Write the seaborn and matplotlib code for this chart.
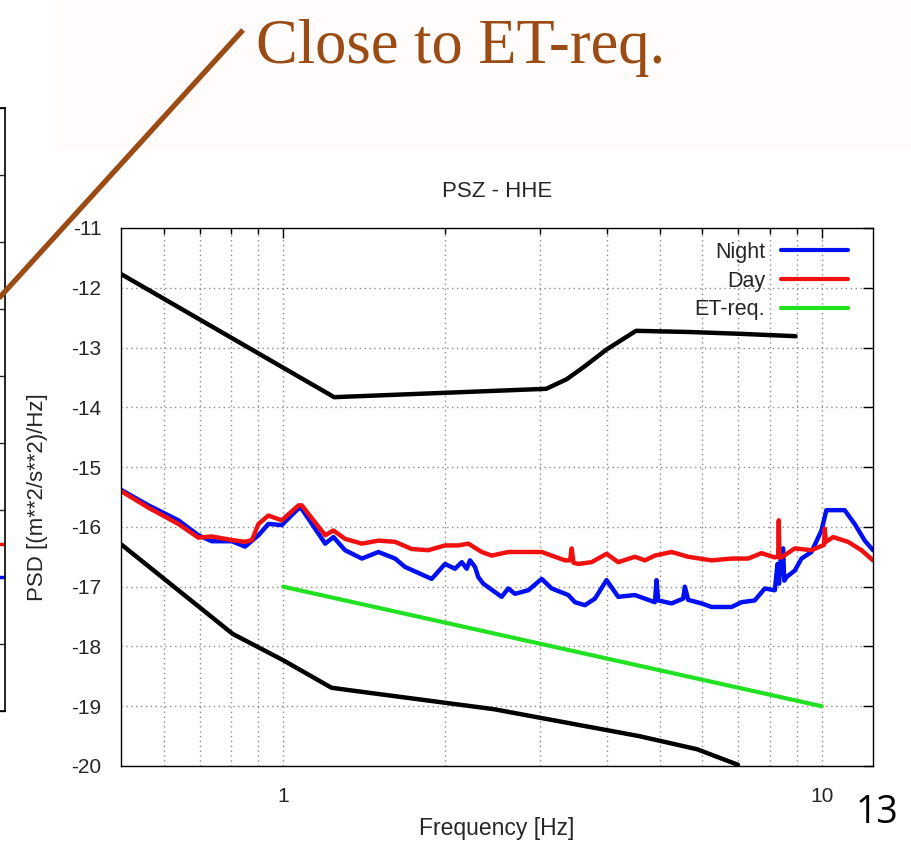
import numpy as np
import pandas as pd
import matplotlib
matplotlib.use("Agg")
import matplotlib.pyplot as plt
import seaborn as sns
from matplotlib.ticker import FixedLocator, FixedFormatter, NullFormatter
from matplotlib.lines import Line2D
from matplotlib.patches import Rectangle

# ---------------- data ----------------
night_freq = [0.5, 0.5625, 0.639, 0.696, 0.737, 0.803, 0.850, 0.900, 0.939, 0.994,
              1.068, 1.083, 1.197, 1.240, 1.303, 1.400, 1.503, 1.614, 1.684, 1.887,
              1.998, 2.085, 2.146, 2.192, 2.223, 2.271, 2.303, 2.353, 2.545, 2.618,
              2.694, 2.852, 3.020, 3.152, 3.384, 3.482, 3.634, 3.792, 3.986, 4.189,
              4.499, 4.695, 4.900, 4.935, 4.969, 5.263, 5.530, 5.570, 5.649, 5.981,
              6.243, 6.800, 7.097, 7.510, 7.839, 8.182, 8.277, 8.330, 8.400, 8.477,
              8.520, 8.601, 8.912, 9.170, 9.570, 9.987, 10.20, 11.03, 11.51, 12.02, 12.45]
night_psd = [-15.38, -15.64, -15.89, -16.14, -16.24, -16.24, -16.33, -16.14, -15.95, -15.97,
             -15.69, -15.70, -16.28, -16.17, -16.39, -16.53, -16.42, -16.53, -16.67, -16.87,
             -16.62, -16.70, -16.59, -16.70, -16.56, -16.67, -16.84, -16.95, -17.17, -17.03,
             -17.12, -17.06, -16.87, -17.03, -17.14, -17.26, -17.31, -17.20, -16.89, -17.17,
             -17.14, -17.20, -17.26, -16.89, -17.23, -17.28, -17.20, -17.00, -17.22, -17.28,
             -17.34, -17.34, -17.26, -17.23, -17.03, -17.06, -16.62, -16.95, -16.45, -16.36,
             -16.90, -16.84, -16.73, -16.53, -16.42, -16.06, -15.72, -15.72, -15.95, -16.23, -16.39]

day_freq = [0.5, 0.5625, 0.639, 0.696, 0.737, 0.803, 0.850, 0.875, 0.900, 0.939,
            0.994, 1.068, 1.083, 1.197, 1.240, 1.303, 1.400, 1.503, 1.614, 1.733,
            1.860, 1.998, 2.115, 2.207, 2.337, 2.439, 2.618, 3.020, 3.337, 3.410,
            3.433, 3.460, 3.531, 3.739, 3.986, 4.189, 4.499, 4.695, 4.900, 5.263,
            5.649, 6.243, 6.800, 7.300, 7.728, 8.182, 8.300, 8.323, 8.345, 8.419,
            8.912, 9.570, 10.10, 10.13, 10.18, 10.50, 11.19, 11.85, 12.45]
day_psd = [-15.40, -15.68, -15.95, -16.18, -16.16, -16.22, -16.25, -16.22, -15.95, -15.81,
           -15.89, -15.64, -15.64, -16.14, -16.06, -16.20, -16.28, -16.23, -16.25, -16.37,
           -16.39, -16.31, -16.31, -16.28, -16.42, -16.48, -16.42, -16.42, -16.56, -16.56,
           -16.36, -16.60, -16.62, -16.59, -16.45, -16.59, -16.50, -16.56, -16.48, -16.42,
           -16.50, -16.56, -16.53, -16.53, -16.44, -16.51, -16.50, -15.89, -16.51, -16.51,
           -16.36, -16.39, -16.30, -16.03, -16.25, -16.17, -16.25, -16.39, -16.56]

et_freq = [1.0, 10.0]
et_psd = [-17.0, -19.0]

high_model_freq = [0.5, 1.244, 3.08, 3.36, 3.61, 3.99, 4.52, 5.69, 7.05, 8.94]
high_model_psd = [-11.77, -13.83, -13.69, -13.53, -13.33, -13.03, -12.72, -12.74, -12.77, -12.81]

low_model_freq = [0.5, 0.806, 1.0, 1.229, 1.323, 2.463, 3.156, 4.58, 5.87, 6.99]
low_model_psd = [-16.29, -17.79, -18.23, -18.69, -18.73, -19.05, -19.23, -19.50, -19.72, -19.98]

x_major = [1, 10]
x_major_labels = ["1", "10"]
x_minor = [0.6, 0.7, 0.8, 0.9, 2, 3, 4, 5, 6, 7, 8, 9]
y_ticks = [-20, -19, -18, -17, -16, -15, -14, -13, -12, -11]

left_panel_ticks = [-20, -19, -18, -17, -16, -15, -14, -13, -12, -11]
left_panel_day = [-17.5]
left_panel_night = [-18.0]

# ---------------- style ----------------
sns.set_style("white")
plt.rcParams["font.family"] = ["Liberation Sans", "DejaVu Sans"]

W, H = 911, 848
fig = plt.figure(figsize=(W / 100, H / 100), dpi=100)
fig.patch.set_facecolor("white")

# very faint slide background strip at the top
fig.add_artist(Rectangle((55 / W, 1 - 150 / H), 1 - 55 / W, 150 / H,
                         transform=fig.transFigure, facecolor="#fffcfb",
                         edgecolor="none", zorder=0))

# main axes
L, R, T, B = 121, 873, 228, 766
ax = fig.add_axes([L / W, 1 - B / H, (R - L) / W, (B - T) / H])

LW = 3.2
sns.lineplot(x=high_model_freq, y=high_model_psd, ax=ax, color="black",
             lw=LW, estimator=None, sort=False)
sns.lineplot(x=low_model_freq, y=low_model_psd, ax=ax, color="black",
             lw=LW, estimator=None, sort=False)
sns.lineplot(x=night_freq, y=night_psd, ax=ax, color="#0010f0", lw=LW,
             estimator=None, sort=False, label="Night")
sns.lineplot(x=day_freq, y=day_psd, ax=ax, color="#f01010", lw=LW,
             estimator=None, sort=False, label="Day")
sns.lineplot(x=et_freq, y=et_psd, ax=ax, color="#22e022", lw=3.0,
             estimator=None, sort=False, label="ET-req.")

ax.set_xscale("log")
ax.set_xlim(0.5, 12.45)
ax.set_ylim(-20, -11)
ax.xaxis.set_major_locator(FixedLocator(x_major))
ax.xaxis.set_major_formatter(FixedFormatter(x_major_labels))
ax.xaxis.set_minor_locator(FixedLocator(x_minor))
ax.xaxis.set_minor_formatter(NullFormatter())
ax.yaxis.set_major_locator(FixedLocator(y_ticks))
ax.set_yticklabels([str(v) for v in y_ticks])

grid_kw = dict(color="#8a8a8a", linestyle=(0, (1, 2.5)), linewidth=1.0)
ax.grid(True, which="major", axis="both", **grid_kw)
ax.grid(True, which="minor", axis="x", **grid_kw)
ax.set_axisbelow(True)

for s in ax.spines.values():
    s.set_visible(True)
    s.set_color("black")
    s.set_linewidth(1.0)

ax.tick_params(which="both", direction="in", top=True, right=True, color="black")
ax.tick_params(which="major", length=7, width=1, labelsize=15)
ax.tick_params(which="minor", length=4, width=1)
ax.tick_params(axis="y", which="major", pad=14)
ax.tick_params(axis="x", which="major", pad=15, labelsize=15)

ax.set_title("PSZ - HHE", fontsize=16, pad=22)
ax.set_xlabel("Frequency [Hz]", fontsize=16.5, labelpad=8)
ax.set_ylabel("PSD [(m**2/s**2)/Hz]", fontsize=16, labelpad=17)

handles, labels = ax.get_legend_handles_labels()
leg = ax.legend(handles, labels, loc="upper right", markerfirst=False,
                frameon=False, fontsize=15.5, handlelength=3.1,
                handletextpad=0.75, labelspacing=0.36, borderpad=0,
                borderaxespad=0,
                bbox_to_anchor=((848 - L) / (R - L), 1 - (242 - T) / (B - T)))
for ln in leg.get_lines():
    ln.set_linewidth(3.0)

# partial neighbouring chart on the left edge of the slide
axl = fig.add_axes([-0.2, 1 - 711 / H, 0.2 + 5 / W, (711 - 108) / H])
axl.set_xlim(0, 1)
axl.set_ylim(-20, -11)
axl.set_yticks(left_panel_ticks)
axl.set_yticklabels([])
axl.set_xticks([])
axl.yaxis.tick_right()
axl.tick_params(axis="y", direction="in", length=6, width=1, right=True, left=False)
for name, s in axl.spines.items():
    s.set_visible(name != "left")
    s.set_color("black")
    s.set_linewidth(1.2)
axl.patch.set_alpha(0)
sns.lineplot(x=[0.97, 1.0], y=left_panel_day * 2, ax=axl, color="#f01010", lw=2.5,
             estimator=None, sort=False)
sns.lineplot(x=[0.97, 1.0], y=left_panel_night * 2, ax=axl, color="#0010f0", lw=2.5,
             estimator=None, sort=False)
axl.set_xlabel("")
axl.set_ylabel("")

# slide annotation
BROWN = "#9b4b14"
fig.add_artist(Line2D([243 / W, -10 / W], [1 - 30 / H, 1 - (30 + 253 * 267 / 243) / H],
                      transform=fig.transFigure, color=BROWN, lw=3.8,
                      solid_capstyle="butt"))
fig.text(256 / W, 1 - 63 / H, "Close to ET-req.", fontsize=45, color=BROWN,
         family=["Liberation Serif", "DejaVu Serif"], ha="left", va="baseline")

# slide number
fig.text(877 / W, 1 - 813 / H, "13", fontsize=27, color="black",
         family=["Open Sans", "DejaVu Sans"], ha="center", va="center")

fig.savefig("out.png", dpi=100, facecolor="white")
